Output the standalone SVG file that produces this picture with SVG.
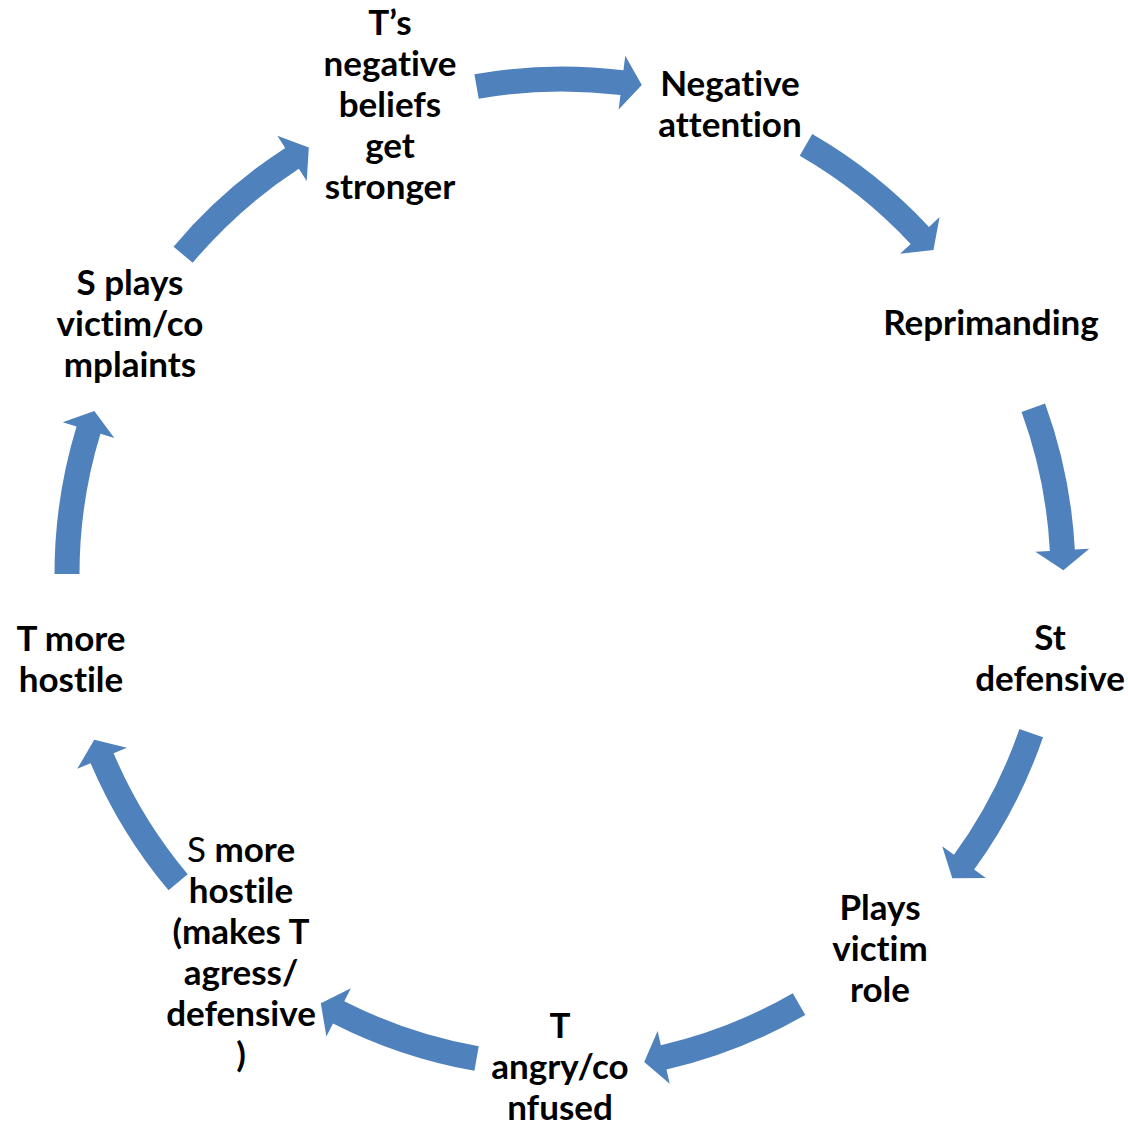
<svg xmlns="http://www.w3.org/2000/svg" width="1128" height="1126" viewBox="0 0 1128 1126">
<defs>
<style>
.arrow{fill:#4F81BD;stroke:none}
.lbl{font-family:Lato,"Open Sans","Liberation Sans",sans-serif;font-weight:bold;font-size:35px;fill:#000;text-anchor:middle;font-variant-ligatures:none}
.reg{font-weight:normal}
</style>
<path id="arc" class="arrow" d="M472.39,74.16 A504.5,504.5 0 0 1 621.48,70.26 L623.25,55.87 L639.8,85.1 L616.67,109.46 L618.44,95.07 A479.5,479.5 0 0 0 476.73,98.78 Z"/>
</defs>
<rect width="1128" height="1126" fill="#fff"/>
<g id="connectors">
<use href="#arc" transform="translate(2,0)"/>
<use href="#arc" transform="rotate(40 560 571)"/>
<use href="#arc" transform="translate(11,5) rotate(80 560 571)"/>
<use href="#arc" transform="translate(6,2) rotate(119 560 571)"/>
<use href="#arc" transform="translate(-7,7) rotate(160 560 571)"/>
<use href="#arc" transform="translate(2,3) rotate(200 560 571)"/>
<use href="#arc" transform="translate(-5,-5) rotate(240 560 571)"/>
<use href="#arc" transform="translate(-1,3) rotate(280 560 571)"/>
<use href="#arc" transform="rotate(320 560 571)"/>
</g>
<g id="n1"><text class="lbl"><tspan x="390" y="35">T’s</tspan><tspan x="390" y="76">negative</tspan><tspan x="390" y="117">beliefs</tspan><tspan x="390" y="158">get</tspan><tspan x="390" y="199">stronger</tspan></text></g>
<g id="n2"><text class="lbl"><tspan x="730" y="96">Negative</tspan><tspan x="730" y="137">attention</tspan></text></g>
<g id="n3"><text class="lbl"><tspan x="991" y="335">Reprimanding</tspan></text></g>
<g id="n4"><text class="lbl"><tspan x="1050" y="650">St</tspan><tspan x="1050" y="691">defensive</tspan></text></g>
<g id="n5"><text class="lbl"><tspan x="880" y="920">Plays</tspan><tspan x="880" y="961">victim</tspan><tspan x="880" y="1002">role</tspan></text></g>
<g id="n6"><text class="lbl"><tspan x="560" y="1038">T</tspan><tspan x="560" y="1079">angry/co</tspan><tspan x="560" y="1120">nfused</tspan></text></g>
<g id="n7"><text class="lbl"><tspan x="241" y="862"><tspan class="reg">S</tspan> more</tspan><tspan x="241" y="903">hostile</tspan><tspan x="241" y="944">(makes T</tspan><tspan x="241" y="985">agress/</tspan><tspan x="241" y="1026">defensive</tspan><tspan x="241" y="1067">)</tspan></text></g>
<g id="n8"><text class="lbl"><tspan x="71" y="651">T more</tspan><tspan x="71" y="692">hostile</tspan></text></g>
<g id="n9"><text class="lbl"><tspan x="130" y="295">S plays</tspan><tspan x="130" y="336">victim/co</tspan><tspan x="130" y="377">mplaints</tspan></text></g>
</svg>
